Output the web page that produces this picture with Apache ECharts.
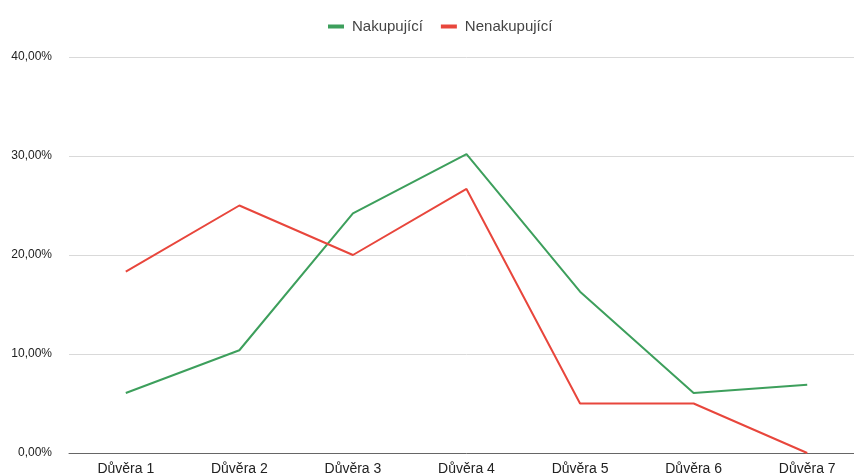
<!DOCTYPE html>
<html>
<head>
<meta charset="utf-8">
<script src="https://cdn.jsdelivr.net/npm/echarts@6/dist/echarts.min.js"></script>
<style>html,body{margin:0;padding:0;background:#fff;overflow:hidden;width:854px;height:476px}#c{width:864px;height:476px}</style>
</head>
<body>
<div id="c"></div>
<script>
const categories = ['Důvěra 1','Důvěra 2','Důvěra 3','Důvěra 4','Důvěra 5','Důvěra 6','Důvěra 7'];
const nakupujici = [6.06, 10.38, 24.2, 30.2, 16.3, 6.06, 6.9];
const nenakupujici = [18.33, 25.0, 20.0, 26.67, 5.0, 5.0, 0.0];
const seriesNames = ['Nakupující', 'Nenakupující'];

const chart = echarts.init(document.getElementById('c'), null, {renderer: 'canvas'});
chart.setOption({
  animation: false,
  textStyle: {fontFamily: 'Liberation Sans, Arial, sans-serif'},
  legend: {
    top: 14, left: 323,
    icon: 'rect', itemWidth: 16, itemHeight: 4, itemGap: 18,
    textStyle: {color: '#444', fontSize: 15, padding: [0, 0, 0, 3]}
  },
  grid: {left: 69, top: 57, right: 0, height: 398},
  xAxis: {
    type: 'category', data: categories, boundaryGap: true,
    axisLine: {lineStyle: {color: '#666', width: 1}},
    axisTick: {show: false},
    axisLabel: {color: '#222', fontSize: 14, margin: 9}
  },
  yAxis: {
    type: 'value', min: 0, max: 40, interval: 10,
    axisLine: {show: false}, axisTick: {show: false},
    splitLine: {lineStyle: {color: '#d9d9d9'}},
    axisLabel: {color: '#222', fontSize: 12, margin: 17,
      formatter: v => v.toFixed(2).replace('.', ',') + '%'}
  },
  series: [
    {name: seriesNames[0], type: 'line', data: nakupujici, symbol: 'none',
      lineStyle: {width: 2, color: '#3d9f5c'}, itemStyle: {color: '#3d9f5c'}},
    {name: seriesNames[1], type: 'line', data: nenakupujici, symbol: 'none',
      lineStyle: {width: 2, color: '#e8463c'}, itemStyle: {color: '#e8463c'}}
  ]
});
</script>
</body>
</html>
